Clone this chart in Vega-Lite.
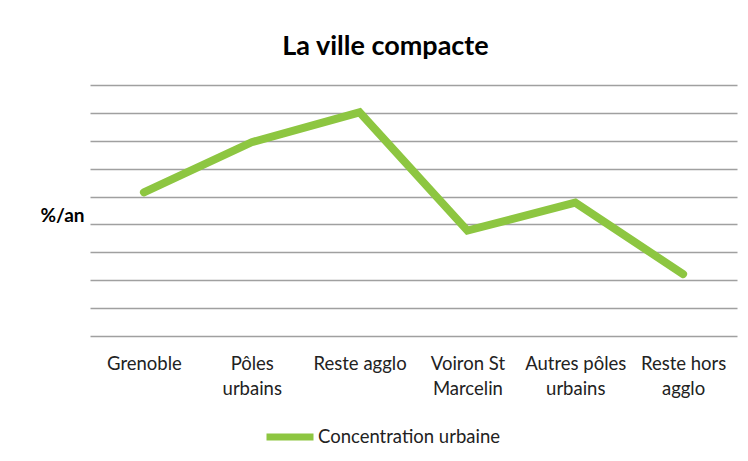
{
  "$schema": "https://vega.github.io/schema/vega-lite/v6.json",
  "width": 647,
  "height": 251,
  "autosize": {"type": "none"},
  "padding": {"left": 90, "top": 85, "right": 11, "bottom": 125},
  "background": "white",
  "config": {
    "font": "Lato",
    "view": {"stroke": null}
  },
  "title": {
    "text": "La ville compacte",
    "font": "Lato",
    "fontSize": 27,
    "fontWeight": "bold",
    "color": "#000000",
    "anchor": "middle",
    "dx": -28,
    "offset": 24
  },
  "data": {
    "values": [
      {"zone": "Grenoble", "serie": "Concentration urbaine", "valeur": 5.15},
      {"zone": "Pôles|urbains", "serie": "Concentration urbaine", "valeur": 6.95},
      {"zone": "Reste agglo", "serie": "Concentration urbaine", "valeur": 8.02},
      {"zone": "Voiron St|Marcelin", "serie": "Concentration urbaine", "valeur": 3.78},
      {"zone": "Autres pôles|urbains", "serie": "Concentration urbaine", "valeur": 4.78},
      {"zone": "Reste hors|agglo", "serie": "Concentration urbaine", "valeur": 2.22}
    ]
  },
  "mark": {"type": "line", "strokeWidth": 8, "strokeCap": "round"},
  "encoding": {
    "x": {
      "field": "zone",
      "type": "ordinal",
      "sort": null,
      "scale": {"type": "point", "padding": 0.5},
      "axis": {
        "title": null,
        "domain": false,
        "ticks": false,
        "grid": false,
        "labelAngle": 0,
        "labelExpr": "split(datum.label, '|')",
        "labelFontSize": 18.5,
        "labelLineHeight": 25,
        "labelColor": "#222222",
        "labelPadding": 27,
        "labelBaseline": "middle"
      }
    },
    "y": {
      "field": "valeur",
      "type": "quantitative",
      "scale": {"domain": [0, 9], "nice": false},
      "axis": {
        "title": "%/an",
        "titleAngle": 0,
        "titleFontSize": 19,
        "titleFontWeight": "bold",
        "titleColor": "#000000",
        "titleAlign": "center",
        "titleBaseline": "middle",
        "titleX": -28,
        "titleY": 130,
        "values": [0, 1, 2, 3, 4, 5, 6, 7, 8, 9],
        "labels": false,
        "ticks": false,
        "domain": false,
        "grid": true,
        "gridColor": "#A0A0A0",
        "gridWidth": 1.5
      }
    },
    "color": {
      "field": "serie",
      "type": "nominal",
      "scale": {"range": ["#8DC641"]},
      "legend": {
        "title": null,
        "orient": "none",
        "legendX": 173,
        "legendY": 325,
        "symbolType": "stroke",
        "symbolStrokeWidth": 7,
        "symbolSize": 2209,
        "labelFontSize": 18.5,
        "labelColor": "#222222",
        "labelOffset": 1,
        "labelLimit": 400
      }
    }
  }
}
